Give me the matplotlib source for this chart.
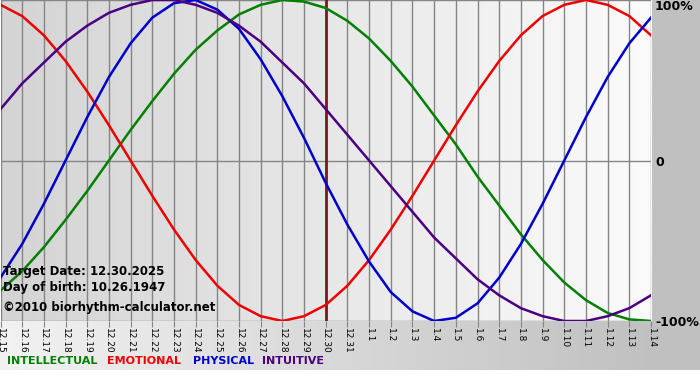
#!/usr/bin/env python3
# Biorhythm chart, 12.15.2025 - 1.14.2026
import numpy as np
import matplotlib
matplotlib.use("Agg")
import matplotlib.pyplot as plt
from matplotlib.colors import LinearSegmentedColormap

days = ["12.15", "12.16", "12.17", "12.18", "12.19", "12.20", "12.21", "12.22",
        "12.23", "12.24", "12.25", "12.26", "12.27", "12.28", "12.29", "12.30",
        "12.31", "1.1", "1.2", "1.3", "1.4", "1.5", "1.6", "1.7", "1.8", "1.9",
        "1.10", "1.11", "1.12", "1.13", "1.14"]
target_idx = 15

intellectual = [-0.81, -0.69, -0.54, -0.37, -0.19, 0.00, 0.19, 0.37, 0.54, 0.69,
                0.81, 0.91, 0.97, 1.00, 0.99, 0.95, 0.87, 0.76, 0.62, 0.46,
                0.28, 0.10, -0.10, -0.28, -0.46, -0.62, -0.76, -0.87, -0.95,
                -0.99, -1.00]
emotional = [0.97, 0.90, 0.78, 0.62, 0.43, 0.22, 0.00, -0.22, -0.43, -0.62,
             -0.78, -0.90, -0.97, -1.00, -0.97, -0.90, -0.78, -0.62, -0.43,
             -0.22, 0.00, 0.22, 0.43, 0.62, 0.78, 0.90, 0.97, 1.00, 0.97,
             0.90, 0.78]
physical = [-0.73, -0.52, -0.27, 0.00, 0.27, 0.52, 0.73, 0.89, 0.98, 1.00,
            0.94, 0.82, 0.63, 0.40, 0.14, -0.14, -0.40, -0.63, -0.82, -0.94,
            -1.00, -0.98, -0.89, -0.73, -0.52, -0.27, 0.00, 0.27, 0.52, 0.73,
            0.89]
intuitive = [0.32, 0.48, 0.61, 0.74, 0.84, 0.92, 0.97, 1.00, 1.00, 0.97,
             0.92, 0.84, 0.74, 0.61, 0.48, 0.32, 0.16, 0.00, -0.16, -0.32,
             -0.48, -0.61, -0.74, -0.84, -0.92, -0.97, -1.00, -1.00, -0.97,
             -0.92, -0.84]

names = ["INTELLECTUAL", "EMOTIONAL", "PHYSICAL", "INTUITIVE"]
colors = ["#008000", "#ee0000", "#0000cc", "#4b0082"]
series = [intellectual, emotional, physical, intuitive]

W, H = 700, 380
fig = plt.figure(figsize=(W / 100, H / 100), dpi=100)
fig.patch.set_facecolor("white")

# background panels (bottom strip gradient + right grey column)
bg = fig.add_axes([0, 0, 1, 1], zorder=-10)
bg.axis("off")
grad = np.linspace(0, 1, 256).reshape(1, -1)
bg.imshow(grad, extent=[0, W, 370, 321], aspect="auto",
          cmap=LinearSegmentedColormap.from_list("b", ["#f2f2f2", "#bdbdbd"]))
bg.add_patch(plt.Rectangle((651, 0), 49, 370, color="#c0c0c0", lw=0))
bg.set_xlim(0, W)
bg.set_ylim(H, 0)

ax = fig.add_axes([0.5 / W, 1 - 321 / H, 650.5 / W, 321 / H])
x = np.arange(len(days))
ax.set_xlim(0, len(days) - 1)
ax.set_ylim(-1, 1)
ax.imshow(grad, extent=[0, len(days) - 1, -1, 1], aspect="auto", zorder=0,
          cmap=LinearSegmentedColormap.from_list("p", ["#d4d4d4", "#fbfbfb"]))

for xi in x:
    ax.axvline(xi, color="#858585", lw=1, zorder=1)
for yv in (-1, 0, 1):
    ax.axhline(yv, color="#858585", lw=1, zorder=1)
ax.axvline(target_idx, color="#7a1a1a", lw=2, zorder=2)

for vals, c in zip(series, colors):
    ax.plot(x, vals, color=c, lw=1.8, zorder=3, solid_joinstyle="round")

for s in ax.spines.values():
    s.set_visible(False)
ax.set_yticks([])
ax.set_xticks(x)
ax.set_xticklabels(days, rotation=270, fontsize=6.5)
ax.tick_params(axis="x", length=4, color="#858585", pad=1)

ax.text(0.004, 0.155, "Target Date: 12.30.2025", transform=ax.transAxes,
        fontsize=8.5, fontweight="bold", va="center", zorder=5)
ax.text(0.004, 0.105, "Day of birth: 10.26.1947", transform=ax.transAxes,
        fontsize=8.5, fontweight="bold", va="center", zorder=5)
ax.text(0.004, 0.043, "\u00a92010 biorhythm-calculator.net", transform=ax.transAxes,
        fontsize=8.5, fontweight="bold", va="center", zorder=5)

for lab, yp in (("100%", 7), ("0", 162), ("-100%", 322)):
    fig.text(655 / W, 1 - yp / H, lab, fontsize=9, fontweight="bold", va="center")

xpos = [7, 107, 193, 262]
for nm, c, xp in zip(names, colors, xpos):
    fig.text(xp / W, 1 - 361 / H, nm, color=c, fontsize=8, fontweight="bold",
             va="center")

fig.savefig("out.png", dpi=100)
